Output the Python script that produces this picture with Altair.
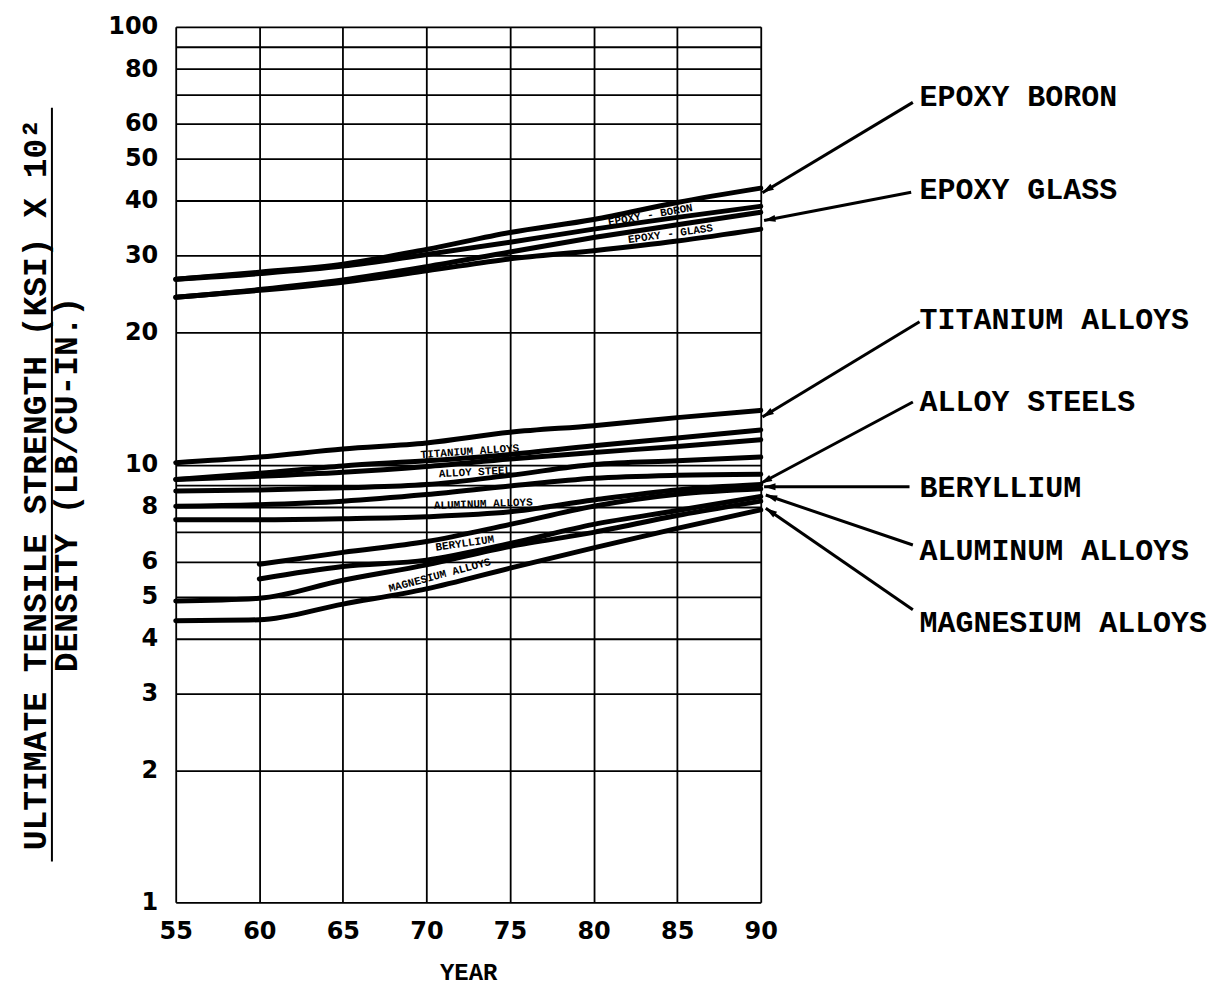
import math
import altair as alt
import pandas as pd

# ---------------- data ----------------
years = [55, 60, 65, 70, 75, 80, 85, 90]

epoxy_boron_upper = [26.5, 27.5, 28.7, 31.0, 33.9, 36.3, 39.7, 42.8]
epoxy_boron_lower = [26.5, 27.3, 28.4, 30.2, 32.2, 34.5, 36.7, 38.9]
epoxy_glass_upper = [24.1, 25.1, 26.4, 28.3, 30.6, 33.0, 35.3, 37.7]
epoxy_glass_lower = [24.1, 25.0, 26.1, 27.7, 29.5, 30.8, 32.4, 34.5]
titanium_upper = [10.1, 10.4, 10.85, 11.2, 11.85, 12.27, 12.8, 13.3]
titanium_lower = [9.25, 9.55, 9.93, 10.2, 10.55, 11.04, 11.5, 12.0]
steel_upper = [9.25, 9.4, 9.6, 9.9, 10.3, 10.66, 11.0, 11.4]
steel_lower = [8.7, 8.75, 8.85, 9.0, 9.45, 10.0, 10.2, 10.4]
aluminum_upper = [8.03, 8.1, 8.25, 8.54, 8.93, 9.3, 9.45, 9.5]
aluminum_lower = [7.48, 7.48, 7.52, 7.6, 7.8, 8.3, 8.75, 9.0]
beryllium_upper = [None, 5.92, 6.3, 6.67, 7.3, 8.03, 8.55, 8.8]
beryllium_lower = [None, 5.48, 5.85, 6.05, 6.6, 7.3, 7.85, 8.45]
magnesium_upper = [4.88, 4.95, 5.44, 5.9, 6.5, 7.0, 7.65, 8.25]
magnesium_lower = [4.4, 4.42, 4.8, 5.2, 5.8, 6.45, 7.15, 7.88]

series = {
    "epoxy_boron_upper": epoxy_boron_upper,
    "epoxy_boron_lower": epoxy_boron_lower,
    "epoxy_glass_upper": epoxy_glass_upper,
    "epoxy_glass_lower": epoxy_glass_lower,
    "titanium_upper": titanium_upper,
    "titanium_lower": titanium_lower,
    "steel_upper": steel_upper,
    "steel_lower": steel_lower,
    "aluminum_upper": aluminum_upper,
    "aluminum_lower": aluminum_lower,
    "beryllium_upper": beryllium_upper,
    "beryllium_lower": beryllium_lower,
    "magnesium_upper": magnesium_upper,
    "magnesium_lower": magnesium_lower,
}

# in-plot band labels (year, value, angle)
band_labels = ["EPOXY - BORON", "EPOXY - GLASS", "TITANIUM ALLOYS", "ALLOY STEEL",
               "ALUMINUM ALLOYS", "BERYLLIUM", "MAGNESIUM ALLOYS"]
band_label_year = [83.4, 84.6, 72.6, 72.9, 73.4, 72.3, 70.8]
band_label_value = [37.1, 33.6, 10.7, 9.6, 8.12, 6.6, 5.58]
band_label_angle = [350, 352, 356, 357, 358, 352, 345]

# right-hand call-outs
callouts = ["EPOXY BORON", "EPOXY GLASS", "TITANIUM ALLOYS", "ALLOY STEELS",
            "BERYLLIUM", "ALUMINUM ALLOYS", "MAGNESIUM ALLOYS"]
callout_year = [99.5] * 7
callout_value = [69.2, 42.3, 21.4, 13.9, 8.83, 6.33, 4.35]
tail_year = [99.1, 99.0, 99.5, 99.1, 98.9, 99.1, 99.1]
tail_value = [67.2, 41.9, 21.2, 13.9, 8.9, 6.55, 4.66]
tip_year = [90.1, 90.2, 90.1, 90.0, 90.2, 90.3, 90.3]
tip_value = [41.8, 36.1, 12.85, 9.06, 8.9, 8.52, 7.95]

x_ticks = [55, 60, 65, 70, 75, 80, 85, 90]
y_grid = [1, 2, 3, 4, 5, 6, 7, 8, 9, 10, 20, 30, 40, 50, 60, 70, 80, 90, 100]

# ---------------- tables ----------------
rows = []
for name, vals in series.items():
    for yr, v in zip(years, vals):
        if v is not None:
            rows.append({"line": name, "year": yr, "value": v})
lines_df = pd.DataFrame(rows)

band_df = pd.DataFrame({"text": band_labels, "year": band_label_year,
                        "value": band_label_value, "ang": band_label_angle})

W, H = 586, 877
ppy = W / 35.0
ppd = H / 2.0
angs = []
for ty, tv, hy, hv in zip(tail_year, tail_value, tip_year, tip_value):
    dx = (hy - ty) * ppy
    dy = (math.log10(tv) - math.log10(hv)) * ppd
    angs.append(math.degrees(math.atan2(dx, -dy)) % 360)

call_df = pd.DataFrame({"text": callouts, "year": callout_year, "value": callout_value,
                        "ty": tail_year, "tv": tail_value, "hy": tip_year, "hv": tip_value,
                        "ang": angs})

# ---------------- chart ----------------
xs = alt.Scale(domain=[55, 90], nice=False, zero=False)
ys = alt.Scale(type="log", domain=[1, 100], nice=False)

x_axis = alt.Axis(values=x_ticks, grid=True, gridColor="black", gridWidth=1.8, gridOpacity=1,
                  ticks=False, domain=False, labelFont="DejaVu Sans", labelFontSize=24,
                  labelFontWeight="bold", labelColor="black", labelPadding=17, labelFlush=False,
                  labelOverlap=False, format="d", title="YEAR", titleFont="Liberation Mono",
                  titleFontSize=24, titleFontWeight="bold", titleColor="black", titlePadding=17)

y_axis = alt.Axis(values=y_grid, grid=True, gridColor="black", gridWidth=1.8, gridOpacity=1,
                  ticks=False, domain=False, labelFont="DejaVu Sans", labelFontSize=24,
                  labelFontWeight="bold", labelColor="black", labelPadding=18, labelFlush=False,
                  labelOverlap=False,
                  labelExpr="(datum.value==7||datum.value==9||datum.value==70||datum.value==90) ? '' : format(datum.value,'d')",
                  title=["ULTIMATE TENSILE STRENGTH (KSI) X 10\u00b2", "DENSITY (LB/CU-IN.)"],
                  titleFont="Liberation Mono", titleFontSize=33, titleFontWeight="bold",
                  titleColor="black", titleLineHeight=31, titlePadding=24, titleY=458)

base_lines = alt.Chart(lines_df).mark_line(
    color="black", strokeWidth=5, strokeCap="round", interpolate="monotone"
).encode(
    x=alt.X("year:Q", scale=xs, axis=x_axis),
    y=alt.Y("value:Q", scale=ys, axis=y_axis),
    detail="line:N",
)

band_text = alt.Chart(band_df).mark_text(
    font="Liberation Mono", fontSize=11, fontWeight="bold", color="black"
).encode(
    x=alt.X("year:Q", scale=xs), y=alt.Y("value:Q", scale=ys),
    text="text:N", angle=alt.Angle("ang:Q", scale=None),
)

arrows = alt.Chart(call_df).mark_rule(color="black", strokeWidth=3).encode(
    x=alt.X("ty:Q", scale=xs), y=alt.Y("tv:Q", scale=ys),
    x2="hy:Q", y2="hv:Q",
)

heads = alt.Chart(call_df).mark_point(
    shape="M0,0L0.6,2L-0.6,2Z", filled=True, color="black", opacity=1, size=130
).encode(
    x=alt.X("hy:Q", scale=xs), y=alt.Y("hv:Q", scale=ys),
    angle=alt.Angle("ang:Q", scale=None),
)

call_text = alt.Chart(call_df).mark_text(
    font="Liberation Mono", fontSize=30, fontWeight="bold", color="black", align="left",
    baseline="middle"
).encode(
    x=alt.X("year:Q", scale=xs), y=alt.Y("value:Q", scale=ys), text="text:N",
)

frac_bar = alt.Chart(pd.DataFrame({"k": [0]})).mark_rule(color="black", strokeWidth=2).encode(
    x=alt.value(-124), y=alt.value(81), y2=alt.value(836),
)

chart = alt.layer(base_lines, band_text, arrows, heads, call_text, frac_bar).properties(
    width=W, height=H,
    autosize=alt.AutoSizeParams(type="none"),
    padding={"left": 168, "top": 18, "right": 455, "bottom": 90},
).configure_view(stroke="black", strokeWidth=3).configure(background="white")

chart.save("out.html", embed_options={"renderer": "svg", "actions": False})
